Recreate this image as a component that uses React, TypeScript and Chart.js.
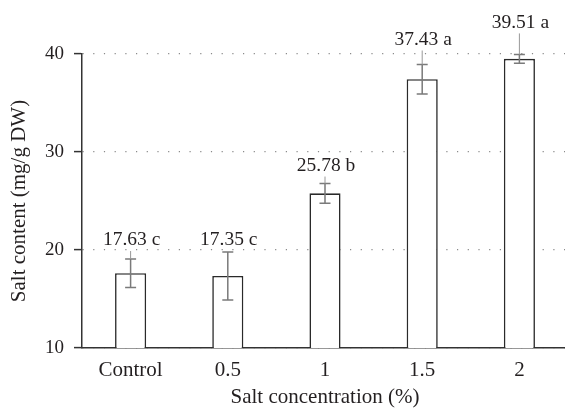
import React, { useEffect, useRef } from "react";
import { Chart, registerables } from "chart.js";

Chart.register(...registerables);

const categories = ["Control", "0.5", "1", "1.5", "2"];
const means = [17.63, 17.35, 25.78, 37.43, 39.51];
const errors = [1.45, 2.45, 1.0, 1.5, 0.45];
const letters = ["c", "c", "b", "a", "a"];
const yMin = 10;
const yMax = 40;
const yStep = 10;
const xTitle = "Salt concentration (%)";
const yTitle = "Salt content (mg/g DW)";

// style: pixel gap between error-bar top and the label centre
const labelGaps = [19, 12, 18, 25, 32];

const FONT = "'Liberation Serif', 'Times New Roman', serif";
const TEXT = "#231f20";

const errorBarPlugin = {
  id: "errorBarsAndLabels",
  afterDatasetsDraw(chart: any) {
    const { ctx } = chart;
    const meta = chart.getDatasetMeta(0);
    const y = chart.scales.y;
    ctx.save();
    meta.data.forEach((el: any, i: number) => {
      const x = el.x;
      const top = y.getPixelForValue(means[i] + errors[i]);
      const bot = y.getPixelForValue(means[i] - errors[i]);
      ctx.strokeStyle = "#7a7a7a";
      ctx.lineWidth = 1.5;
      ctx.beginPath();
      ctx.moveTo(x, top);
      ctx.lineTo(x, bot);
      ctx.moveTo(x - 5.5, top);
      ctx.lineTo(x + 5.5, top);
      ctx.moveTo(x - 5.5, bot);
      ctx.lineTo(x + 5.5, bot);
      ctx.stroke();
      const ly = top - labelGaps[i];
      if (labelGaps[i] > 14) {
        ctx.lineWidth = 1;
        ctx.strokeStyle = "#999";
        ctx.beginPath();
        ctx.moveTo(x, ly + 11);
        ctx.lineTo(x, top);
        ctx.stroke();
      }
      ctx.fillStyle = TEXT;
      ctx.font = `19.5px ${FONT}`;
      ctx.textAlign = "center";
      ctx.textBaseline = "middle";
      ctx.fillText(`${means[i].toFixed(2)} ${letters[i]}`, x + 1, ly);
    });
    ctx.restore();
  },
};

export default function App() {
  const ref = useRef<HTMLCanvasElement | null>(null);
  useEffect(() => {
    if (!ref.current) return;
    const chart = new Chart(ref.current, {
      type: "bar",
      data: {
        labels: categories,
        datasets: [
          {
            data: means,
            backgroundColor: "#ffffff",
            borderColor: "#2a2a2a",
            borderWidth: 1.6,
            barPercentage: 0.32,
            categoryPercentage: 1,
          },
        ],
      },
      options: {
        responsive: false,
        animation: false,
        devicePixelRatio: 1,
        layout: { padding: { top: 54, right: 0, left: 0, bottom: 0 } },
        plugins: {
          legend: { display: false },
          tooltip: { enabled: false },
        },
        scales: {
          x: {
            grid: { display: false },
            border: { color: "#333", width: 1.5 },
            ticks: {
              color: TEXT,
              font: { family: FONT, size: 21 },
              padding: 2,
              maxRotation: 0,
            },
            title: {
              display: true,
              text: xTitle,
              color: TEXT,
              font: { family: FONT, size: 21 },
              padding: { top: 0, bottom: -2 },
            },
            afterFit(scale: any) {
              scale.height = 60;
            },
          },
          y: {
            min: yMin,
            max: yMax,
            ticks: {
              stepSize: yStep,
              color: TEXT,
              font: { family: FONT, size: 19 },
              padding: 10,
            },
            grid: {
              color: "#8a8a8a",
              lineWidth: 1.2,
              tickBorderDash: [],
              tickColor: "#333",
              tickWidth: 1.5,
              tickLength: 8,
            },
            border: { color: "#333", width: 1.5, dash: [1.2, 9.5] },
            title: {
              display: true,
              text: yTitle,
              color: TEXT,
              font: { family: FONT, size: 21 },
              padding: { top: 7, bottom: 0 },
            },
            afterFit(scale: any) {
              scale.width = 82;
            },
          },
        },
      },
      plugins: [errorBarPlugin],
    });
    return () => chart.destroy();
  }, []);
  return (
    <div
      style={{
        position: "fixed",
        left: 0,
        top: 0,
        width: 565,
        height: 408,
        overflow: "hidden",
        background: "#fff",
      }}
    >
      <canvas ref={ref} width={568} height={408} />
    </div>
  );
}
